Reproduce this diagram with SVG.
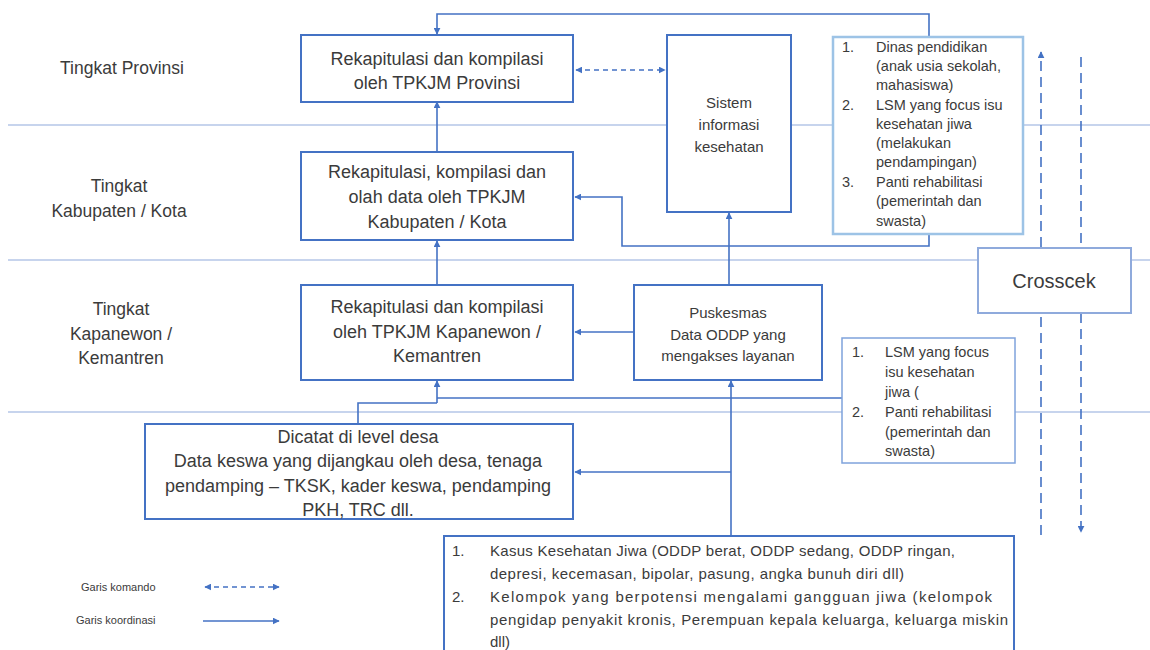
<svg xmlns="http://www.w3.org/2000/svg" width="1150" height="650" viewBox="0 0 1150 650">
<style>
  text { font-family: "Liberation Sans", Arial, sans-serif; fill: #3b3b3b; }
  .lane { stroke: #8FAADC; stroke-width: 1.2; fill: none; }
  .box { fill: #fff; stroke: #4472C4; stroke-width: 2; }
  .lbox { fill: #fff; stroke: #9DC3E6; stroke-width: 2.5; }
  .lbox2 { fill: #fff; stroke: #7FA3DC; stroke-width: 1.5; }
  .cbox { fill: #fff; stroke: #8FAADC; stroke-width: 2; }
  .con { stroke: #4472C4; stroke-width: 1.6; fill: none; }
  .dash { stroke: #4472C4; stroke-width: 1.4; fill: none; stroke-dasharray: 5 4; }
  .vdash { stroke: #4472C4; stroke-width: 1.6; fill: none; stroke-dasharray: 10 6; }
  .t18 { font-size: 18px; }
  .t17 { font-size: 17.5px; }
  .t15 { font-size: 15px; }
  .t14 { font-size: 14.5px; }
  .tk { font-size: 15px; }
  .t11 { font-size: 11px; }
</style>
<defs>
  <marker id="ah" viewBox="0 0 10 10" refX="9" refY="5" markerWidth="7" markerHeight="7" markerUnits="userSpaceOnUse" orient="auto-start-reverse">
    <path d="M0,0 L10,5 L0,10 z" fill="#4472C4"/>
  </marker>
</defs>

<g id="lanes">
  <line class="lane" x1="8" y1="125" x2="1150" y2="125"/>
  <line class="lane" x1="8" y1="260" x2="1150" y2="260"/>
  <line class="lane" x1="8" y1="412" x2="1150" y2="412"/>
</g>

<g id="lane-labels" class="t17">
  <text x="122" y="74" text-anchor="middle">Tingkat Provinsi</text>
  <text x="119" y="192" text-anchor="middle">Tingkat</text>
  <text x="119" y="217" text-anchor="middle">Kabupaten / Kota</text>
  <text x="121" y="315" text-anchor="middle">Tingkat</text>
  <text x="121" y="340" text-anchor="middle">Kapanewon /</text>
  <text x="121" y="364" text-anchor="middle">Kemantren</text>
</g>

<g id="crosscek-lines">
  <line class="vdash" x1="1041" y1="535" x2="1041" y2="52" marker-end="url(#ah)"/>
  <line class="vdash" x1="1081" y1="57" x2="1081" y2="532" marker-end="url(#ah)"/>
</g>

<g id="connectors">
  <path class="con" d="M929,37 V14 H437 V34" marker-end="url(#ah)"/>
  <line class="con" x1="437" y1="152" x2="437" y2="102" marker-end="url(#ah)"/>
  <line class="con" x1="437" y1="285" x2="437" y2="241" marker-end="url(#ah)"/>
  <line class="dash" x1="576" y1="70" x2="665" y2="70" marker-start="url(#ah)" marker-end="url(#ah)"/>
  <path class="con" d="M929,234 V246 H622 V197 H575" marker-end="url(#ah)"/>
  <line class="con" x1="729" y1="285" x2="729" y2="213" marker-end="url(#ah)"/>
  <line class="con" x1="634" y1="332" x2="575" y2="332" marker-end="url(#ah)"/>
  <path class="con" d="M842,398 H437"/>
  <path class="con" d="M358,424 V403 H437"/>
  <line class="con" x1="437" y1="403" x2="437" y2="381" marker-end="url(#ah)"/>
  <line class="con" x1="731" y1="536" x2="731" y2="381" marker-end="url(#ah)"/>
  <line class="con" x1="731" y1="472" x2="575" y2="472" marker-end="url(#ah)"/>
</g>

<g id="node-provinsi">
  <rect class="box" x="301" y="35" width="272" height="67"/>
  <text class="t18" x="437" y="65" text-anchor="middle">Rekapitulasi dan kompilasi</text>
  <text class="t18" x="437" y="89" text-anchor="middle">oleh TPKJM Provinsi</text>
</g>

<g id="node-kabupaten">
  <rect class="box" x="301" y="152" width="272" height="88"/>
  <text class="t18" x="437" y="178" text-anchor="middle">Rekapitulasi, kompilasi dan</text>
  <text class="t18" x="437" y="203" text-anchor="middle">olah data oleh TPKJM</text>
  <text class="t18" x="437" y="228" text-anchor="middle">Kabupaten / Kota</text>
</g>

<g id="node-kapanewon">
  <rect class="box" x="301" y="285" width="272" height="95"/>
  <text class="t18" x="437" y="313" text-anchor="middle">Rekapitulasi dan kompilasi</text>
  <text class="t18" x="437" y="338" text-anchor="middle">oleh TPKJM Kapanewon /</text>
  <text class="t18" x="437" y="362" text-anchor="middle">Kemantren</text>
</g>

<g id="node-desa">
  <rect class="box" x="145" y="424" width="428" height="95"/>
  <text class="t18" x="358" y="443" text-anchor="middle">Dicatat di level desa</text>
  <text class="t18" x="358" y="467" text-anchor="middle">Data keswa yang dijangkau oleh desa, tenaga</text>
  <text class="t18" x="358" y="492" text-anchor="middle">pendamping – TKSK, kader keswa, pendamping</text>
  <text class="t18" x="358" y="516" text-anchor="middle">PKH, TRC dll.</text>
</g>

<g id="node-sistem">
  <rect class="box" x="667" y="35" width="124" height="177"/>
  <text class="t15" x="729" y="108" text-anchor="middle">Sistem</text>
  <text class="t15" x="729" y="130" text-anchor="middle">informasi</text>
  <text class="t15" x="729" y="152" text-anchor="middle">kesehatan</text>
</g>

<g id="node-puskesmas">
  <rect class="box" x="634" y="285" width="188" height="95"/>
  <text class="t15" x="728" y="318" text-anchor="middle">Puskesmas</text>
  <text class="t15" x="728" y="340" text-anchor="middle">Data ODDP yang</text>
  <text class="t15" x="728" y="361" text-anchor="middle">mengakses  layanan</text>
</g>

<g id="node-dinas">
  <rect class="lbox" x="833" y="37" width="190" height="197"/>
  <g class="t14">
    <text x="842" y="52">1.</text><text x="876" y="52">Dinas pendidikan</text>
    <text x="876" y="71">(anak usia sekolah,</text>
    <text x="876" y="90">mahasiswa)</text>
    <text x="842" y="110">2.</text><text x="876" y="110">LSM yang focus isu</text>
    <text x="876" y="129">kesehatan jiwa</text>
    <text x="876" y="148">(melakukan</text>
    <text x="876" y="167">pendampingan)</text>
    <text x="842" y="187">3.</text><text x="876" y="187">Panti rehabilitasi</text>
    <text x="876" y="206">(pemerintah dan</text>
    <text x="876" y="226">swasta)</text>
  </g>
</g>

<g id="node-crosscek">
  <rect class="cbox" x="978" y="248" width="153" height="65"/>
  <text x="1054" y="288" text-anchor="middle" font-size="20">Crosscek</text>
</g>

<g id="node-lsm">
  <rect class="lbox2" x="842" y="338" width="173" height="125"/>
  <g class="t14">
    <text x="852" y="357">1.</text><text x="885" y="357">LSM yang focus</text>
    <text x="885" y="377">isu kesehatan</text>
    <text x="885" y="397">jiwa (</text>
    <text x="852" y="417">2.</text><text x="885" y="417">Panti rehabilitasi</text>
    <text x="885" y="437">(pemerintah dan</text>
    <text x="885" y="456">swasta)</text>
  </g>
</g>

<g id="node-kasus">
  <rect class="box" x="444" y="536" width="570" height="130"/>
  <g class="tk">
    <text x="452" y="556">1.</text>
    <text x="490" y="556" textLength="465" lengthAdjust="spacing">Kasus Kesehatan Jiwa (ODDP berat, ODDP sedang, ODDP ringan,</text>
    <text x="490" y="579" textLength="414" lengthAdjust="spacing">depresi, kecemasan, bipolar, pasung, angka bunuh diri dll)</text>
    <text x="452" y="602">2.</text>
    <text x="490" y="602" textLength="502" lengthAdjust="spacing">Kelompok yang berpotensi mengalami gangguan jiwa (kelompok</text>
    <text x="490" y="625" textLength="518" lengthAdjust="spacing">pengidap penyakit kronis, Perempuan kepala keluarga, keluarga miskin</text>
    <text x="490" y="647">dll)</text>
  </g>
</g>

<g id="legend">
  <text class="t11" x="81" y="591">Garis komando</text>
  <line class="dash" x1="205" y1="587" x2="279" y2="587" stroke-dasharray="3 3" marker-start="url(#ah)" marker-end="url(#ah)"/>
  <text class="t11" x="76" y="624">Garis koordinasi</text>
  <line class="con" x1="203" y1="621" x2="279" y2="621" stroke-width="1.2" marker-end="url(#ah)"/>
</g>
</svg>
